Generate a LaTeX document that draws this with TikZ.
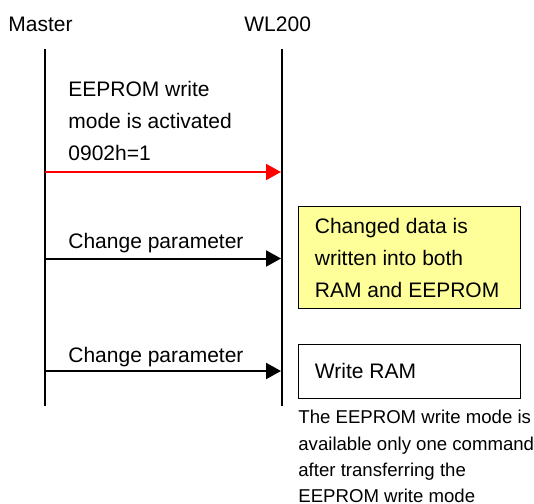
\documentclass[tikz,border=0pt]{standalone}
\usepackage{fontspec}
\setmainfont{Liberation Sans}
\usetikzlibrary{arrows.meta}
\definecolor{noteyellow}{HTML}{FFFF99}
\begin{document}
\begin{tikzpicture}[x=0.5pt,y=-0.5pt,
  lbl/.style={anchor=base west,inner sep=0pt,font=\fontsize{10.5}{12}\selectfont},
  notetxt/.style={anchor=base west,inner sep=0pt,font=\fontsize{9.3}{11}\selectfont},
  lifeline/.style={line width=1pt,black},
  msg/.style={line width=1pt,-{Triangle[length=7.5pt,width=8pt]}},
  actbox/.style={draw=black,line width=0.8pt}]
\useasboundingbox (0,0) rectangle (534,503);
% headers
\node[lbl] (master) at (8,32) {Master};
\node[lbl] (wl) at (244,32) {WL200};
% lifelines
\coordinate (mtop) at (45,49);
\coordinate (mbot) at (45,406);
\coordinate (wtop) at (282,49);
\coordinate (wbot) at (282,406);
\draw[lifeline] (mtop) -- (mbot);
\draw[lifeline] (wtop) -- (wbot);
% message 1
\node[lbl] (t1a) at (68,96) {EEPROM write};
\node[lbl] (t1b) at (68,128) {mode is activated};
\node[lbl] (t1c) at (68,160) {0902h=1};
\coordinate (m1) at (45,172);
\coordinate (w1) at (281,172);
\draw[msg,red] (m1) -- (w1);
% message 2
\node[lbl] (t2) at (68,248) {Change parameter};
\coordinate (m2) at (45,258.5);
\coordinate (w2) at (281,258.5);
\draw[msg] (m2) -- (w2);
% message 3
\node[lbl] (t3) at (68,362) {Change parameter};
\coordinate (m3) at (45,371);
\coordinate (w3) at (281,371);
\draw[msg] (m3) -- (w3);
% yellow box
\node[actbox,fill=noteyellow,minimum width=111pt,minimum height=51pt,anchor=north west,inner sep=0pt] (ybox) at (297.5,205.5) {};
\node[lbl] (y1) at (314.5,233) {Changed data is};
\node[lbl] (y2) at (314.5,265) {written into both};
\node[lbl] (y3) at (314.5,297) {RAM and EEPROM};
% write RAM box
\node[actbox,minimum width=111pt,minimum height=27pt,anchor=north west,inner sep=0pt] (rbox) at (297.5,343.5) {};
\node[lbl] (r1) at (314.5,378) {Write RAM};
% note
\node[notetxt] (n1) at (298,423) {The EEPROM write mode is};
\node[notetxt] (n2) at (298,450) {available only one command};
\node[notetxt] (n3) at (298,476) {after transferring the};
\node[notetxt] (n4) at (298,502) {EEPROM write mode};
\end{tikzpicture}
\end{document}
